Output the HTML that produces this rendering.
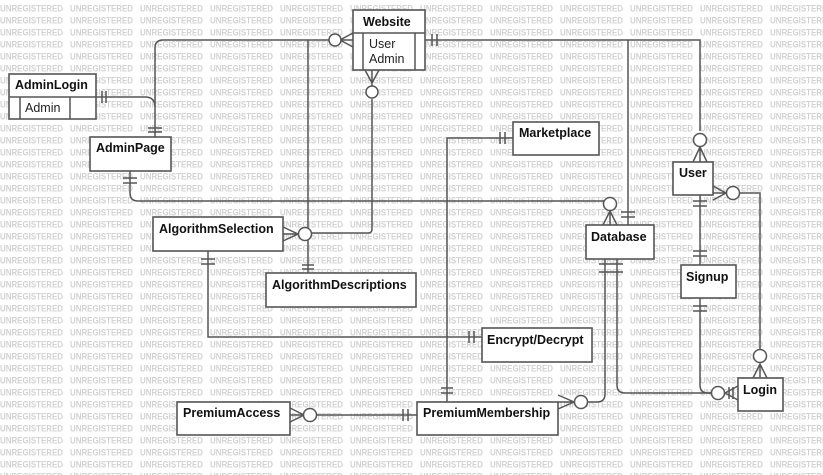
<!DOCTYPE html>
<html><head><meta charset="utf-8"><style>
html,body{margin:0;padding:0;background:#fff;}
svg{display:block;}
.b{fill:#fff;stroke:#555;stroke-width:1.6;}
.l{fill:none;stroke:#555;stroke-width:1.5;}
.c{fill:#fff;stroke:#555;stroke-width:1.5;}
.t{font-family:"Liberation Sans",sans-serif;font-size:12.5px;font-weight:bold;fill:#111;}
.a{font-family:"Liberation Sans",sans-serif;font-size:12.5px;fill:#222;}
</style></head><body>
<svg width="823" height="475" viewBox="0 0 823 475" xmlns="http://www.w3.org/2000/svg">
<defs>
<pattern id="wm" x="0" y="0" width="70" height="12" patternUnits="userSpaceOnUse">
<text x="0" y="11.5" textLength="63" lengthAdjust="spacingAndGlyphs" font-family="Liberation Sans, sans-serif" font-size="9.5" font-weight="bold" fill="#d2d2d2">UNREGISTERED</text>
</pattern>
</defs>
<rect x="0" y="0" width="823" height="475" fill="url(#wm)"/>

<!-- connectors -->
<path class="l" d="M331 40 H163 Q155 40 155 48 V137"/>
<path class="l" d="M96 97 H145 Q155 97 155 107"/>
<line class="l" x1="148" y1="128" x2="162" y2="128"/>
<line class="l" x1="148" y1="132" x2="162" y2="132"/>
<line class="l" x1="102" y1="91" x2="102" y2="103"/><line class="l" x1="106" y1="91" x2="106" y2="103"/>
<path class="l" d="M308 40 V273"/>
<line class="l" x1="302" y1="265" x2="314" y2="265"/><line class="l" x1="302" y1="269" x2="314" y2="269"/>
<path class="l" d="M372 99 V229 Q372 233 368 233 H311"/>
<path class="l" d="M425 40 H700 V131"/>
<line class="l" x1="628" y1="40" x2="628" y2="225"/>
<line class="l" x1="621" y1="212" x2="635" y2="212"/><line class="l" x1="621" y1="217" x2="635" y2="217"/>
<line class="l" x1="432" y1="34" x2="432" y2="46"/><line class="l" x1="437" y1="34" x2="437" y2="46"/>
<path class="l" d="M513 138 H447 V402"/>
<line class="l" x1="500" y1="132" x2="500" y2="144"/><line class="l" x1="505" y1="132" x2="505" y2="144"/>
<line class="l" x1="441" y1="388" x2="453" y2="388"/><line class="l" x1="441" y1="393" x2="453" y2="393"/>
<path class="l" d="M130 171 V193 Q130 201 138 201 H604"/>
<line class="l" x1="123" y1="178" x2="137" y2="178"/><line class="l" x1="123" y1="183" x2="137" y2="183"/>
<path class="l" d="M739 193 H760 V350"/>
<line class="l" x1="700" y1="195" x2="700" y2="266"/>
<line class="l" x1="693" y1="201" x2="707" y2="201"/><line class="l" x1="693" y1="206" x2="707" y2="206"/>
<line class="l" x1="693" y1="251" x2="707" y2="251"/><line class="l" x1="693" y1="256" x2="707" y2="256"/>
<path class="l" d="M700 298 V385 Q700 393 708 393 H712"/>
<line class="l" x1="693" y1="306" x2="707" y2="306"/><line class="l" x1="693" y1="311" x2="707" y2="311"/>
<path class="l" d="M617 259 V385 Q617 393 625 393 H712"/>
<path class="l" d="M605 259 V394 Q605 402 597 402 H588"/>
<line class="l" x1="599" y1="264" x2="623" y2="264"/><line class="l" x1="599" y1="272" x2="623" y2="272"/>
<path class="l" d="M208 251 V337 H482"/>
<line class="l" x1="201" y1="259" x2="215" y2="259"/><line class="l" x1="201" y1="264" x2="215" y2="264"/>
<line class="l" x1="469" y1="331" x2="469" y2="343"/><line class="l" x1="474" y1="331" x2="474" y2="343"/>
<path class="l" d="M316 415 H417"/>
<line class="l" x1="403" y1="409" x2="403" y2="421"/><line class="l" x1="408" y1="409" x2="408" y2="421"/>

<!-- crow's feet + circles -->
<path class="l" d="M353 33 L340 40 L353 47 M340 40 H353"/><circle class="c" cx="335" cy="40" r="6"/>
<path class="l" d="M365 70 L372 83 L379 70 M372 70 V87"/><circle class="c" cx="372" cy="92" r="6"/>
<path class="l" d="M283 227 L298 234 L283 241 M283 234 H298"/><circle class="c" cx="305" cy="234" r="6.5"/>
<path class="l" d="M603 225 L610 211 L617 225 M610 225 V211"/><circle class="c" cx="610" cy="204" r="6.5"/>
<path class="l" d="M693 162 L700 147 L707 162 M700 162 V147"/><circle class="c" cx="700" cy="140" r="6.5"/>
<path class="l" d="M713 186 L726 193 L713 200 M713 193 H726"/><circle class="c" cx="733" cy="193" r="6.5"/>
<path class="l" d="M753 378 L760 364 L767 378 M760 378 V364"/><circle class="c" cx="760" cy="356" r="6.5"/>
<path class="l" d="M738 386 L725 393 L738 400"/><circle class="c" cx="718" cy="393" r="6.5"/>
<line class="l" x1="729" y1="387" x2="729" y2="399"/><line class="l" x1="733" y1="387" x2="733" y2="399"/>
<path class="l" d="M558 395 L574 402 L558 409 M558 402 H574"/><circle class="c" cx="581" cy="402" r="6.5"/>
<path class="l" d="M290 408 L304 415 L290 422 M290 415 H304"/><circle class="c" cx="310" cy="415" r="6.5"/>

<!-- boxes -->
<rect class="b" x="353" y="10" width="72" height="60"/>
<line class="l" x1="353" y1="33" x2="425" y2="33"/>
<line class="l" x1="363" y1="33" x2="363" y2="70"/><line class="l" x1="415" y1="33" x2="415" y2="70"/>
<text class="t" x="363" y="26">Website</text>
<text class="a" x="369" y="48">User</text><text class="a" x="369" y="63">Admin</text>

<rect class="b" x="9" y="74" width="87" height="45"/>
<line class="l" x1="9" y1="97" x2="96" y2="97"/>
<line class="l" x1="20" y1="97" x2="20" y2="119"/><line class="l" x1="70" y1="97" x2="70" y2="119"/>
<text class="t" x="15" y="89">AdminLogin</text>
<text class="a" x="25" y="112">Admin</text>

<rect class="b" x="90" y="137" width="81" height="34"/><text class="t" x="96" y="152">AdminPage</text>
<rect class="b" x="513" y="122" width="86" height="33"/><text class="t" x="519" y="137">Marketplace</text>
<rect class="b" x="673" y="162" width="40" height="33"/><text class="t" x="679" y="177">User</text>
<rect class="b" x="153" y="217" width="130" height="34"/><text class="t" x="159" y="233">AlgorithmSelection</text>
<rect class="b" x="586" y="225" width="68" height="34"/><text class="t" x="591" y="241">Database</text>
<rect class="b" x="266" y="273" width="150" height="34"/><text class="t" x="272" y="289">AlgorithmDescriptions</text>
<rect class="b" x="681" y="265" width="55" height="33"/><text class="t" x="686" y="281">Signup</text>
<rect class="b" x="482" y="328" width="110" height="34"/><text class="t" x="487" y="344">Encrypt/Decrypt</text>
<rect class="b" x="738" y="378" width="45" height="33"/><text class="t" x="743" y="394">Login</text>
<rect class="b" x="177" y="402" width="113" height="33"/><text class="t" x="183" y="417">PremiumAccess</text>
<rect class="b" x="417" y="402" width="141" height="33"/><text class="t" x="423" y="417">PremiumMembership</text>
</svg>
</body></html>
